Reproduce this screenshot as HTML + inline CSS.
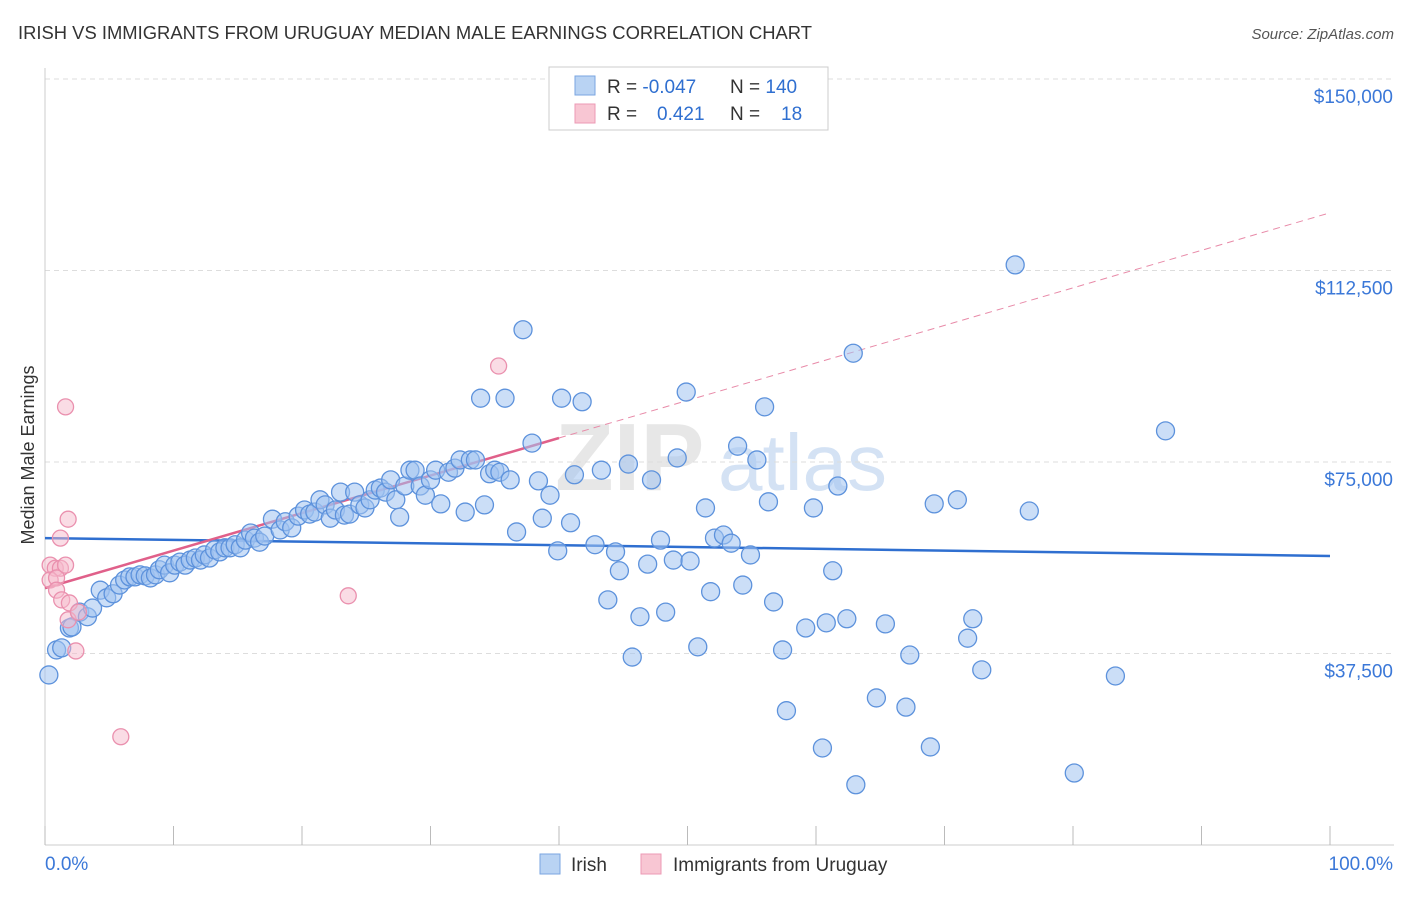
<!DOCTYPE html>
<html><head><meta charset="utf-8"><style>
body{margin:0;background:#fff;font-family:"Liberation Sans",sans-serif;}
svg text{font-family:"Liberation Sans",sans-serif;}
</style></head><body>
<svg id="chart" width="1406" height="892" xmlns="http://www.w3.org/2000/svg">
<text x="18" y="39" font-size="18" fill="#333" textLength="794" lengthAdjust="spacingAndGlyphs">IRISH VS IMMIGRANTS FROM URUGUAY MEDIAN MALE EARNINGS CORRELATION CHART</text>
<text x="1394" y="39" font-size="15" fill="#555" text-anchor="end" font-style="italic">Source: ZipAtlas.com</text>
<text x="34" y="455" font-size="18" fill="#333" text-anchor="middle" transform="rotate(-90 34 455)">Median Male Earnings</text>
<g>
<text x="555" y="490" font-size="96" fill="#d8d8d8" font-weight="bold" opacity="0.6">ZIP</text>
<text x="718" y="490" font-size="80" fill="#b8d0ee" opacity="0.6">atlas</text>
</g>
<g id="grid"></g>
<g id="axes"></g>
<g id="trends"></g>
<g id="points"></g>
<g>
<rect x="549" y="67" width="279" height="63" fill="#fff" stroke="#ccc"/>
<rect x="575" y="76" width="20" height="19" fill="#b9d3f3" stroke="#7aa6e0"/>
<rect x="575" y="104" width="20" height="19" fill="#f8c6d3" stroke="#ec9ab4"/>
<text x="607" y="93" font-size="19" fill="#333">R = <tspan fill="#2f6fd0">-0.047</tspan></text>
<text x="730" y="93" font-size="19" fill="#333">N = <tspan fill="#2f6fd0">140</tspan></text>
<text x="607" y="120" font-size="19" fill="#333">R = <tspan x="657" fill="#2f6fd0">0.421</tspan></text>
<text x="730" y="120" font-size="19" fill="#333">N = <tspan x="781" fill="#2f6fd0">18</tspan></text>
</g>
<g>
<rect x="540" y="854" width="20" height="20" fill="#b9d3f3" stroke="#7aa6e0"/>
<text x="571" y="871" font-size="19" fill="#333">Irish</text>
<rect x="641" y="854" width="20" height="20" fill="#f8c6d3" stroke="#ec9ab4"/>
<text x="673" y="871" font-size="19" fill="#333">Immigrants from Uruguay</text>
</g>
</svg>
<script>
const yTicks=[37500,75000,112500,150000];
const yTickLabels=["$37,500","$75,000","$112,500","$150,000"];
const xTicks=[0,10,20,30,40,50,60,70,80,90,100];
const irishX=[0.3,0.9,1.3,1.9,2.1,2.7,3.3,3.7,4.3,4.8,5.3,5.8,6.2,6.6,7.0,7.4,7.8,8.2,8.6,8.9,9.3,9.7,10.1,10.5,10.9,11.3,11.7,12.1,12.4,12.8,13.2,13.6,14.0,14.4,14.8,15.2,15.6,16.0,16.3,16.7,17.1,17.7,18.3,18.7,19.2,19.7,20.2,20.6,21.0,21.4,21.8,22.2,22.6,23.0,23.3,23.7,24.1,24.5,24.9,25.3,25.7,26.1,26.5,26.9,27.3,27.6,28.0,28.4,28.8,29.2,29.6,30.0,30.4,30.8,31.4,31.9,32.3,32.7,33.1,33.5,33.9,34.2,34.6,35.0,35.4,35.8,36.2,36.7,37.2,37.9,38.4,38.7,39.3,39.9,40.2,40.9,41.2,41.8,42.8,43.3,43.8,44.4,44.7,45.4,45.7,46.3,46.9,47.2,47.9,48.3,48.9,49.2,49.9,50.2,50.8,51.4,51.8,52.1,52.8,53.4,53.9,54.3,54.9,55.4,56.0,56.3,56.7,57.4,57.7,59.2,59.8,60.5,60.8,61.3,61.7,62.4,62.9,63.1,65.4,64.7,67.0,67.3,68.9,69.2,71.0,71.8,72.2,72.9,75.5,76.6,80.1,83.3,87.2];
const irishY=[33.3,38.2,38.6,42.5,42.7,45.6,44.7,46.4,49.9,48.4,49.2,50.9,51.9,52.5,52.5,52.9,52.7,52.3,52.9,53.9,54.8,53.3,54.8,55.4,54.8,55.8,56.2,55.8,56.8,56.2,57.8,57.4,58.2,58.2,58.8,58.2,59.7,61.1,60.1,59.3,60.5,63.8,61.7,63.3,62.1,64.4,65.6,64.8,65.2,67.6,66.6,64.0,65.6,69.1,64.6,64.8,69.1,66.6,66.0,67.6,69.5,69.9,69.1,71.5,67.6,64.2,70.3,73.4,73.4,70.3,68.5,71.5,73.4,66.8,73.0,73.8,75.4,65.2,75.4,75.4,87.5,66.6,72.7,73.4,73.0,87.5,71.5,61.3,100.9,78.7,71.3,64.0,68.5,57.6,87.5,63.1,72.5,86.8,58.8,73.4,48.0,57.4,53.7,74.6,36.8,44.7,55.0,71.5,59.7,45.6,55.8,75.8,88.7,55.6,38.8,66.0,49.6,60.1,60.7,59.1,78.1,50.9,56.8,75.4,85.8,67.2,47.6,38.2,26.3,42.5,66.0,19.0,43.5,53.7,70.3,44.3,96.3,11.8,43.3,28.8,27.0,37.2,19.2,66.8,67.6,40.5,44.3,34.3,113.6,65.4,14.1,33.1,81.1];
const uruX=[1.6,1.8,1.2,0.4,0.8,1.2,0.4,0.9,0.9,1.3,1.9,1.8,2.6,2.4,5.9,23.6,35.3,1.6];
const uruY=[85.8,63.8,60.1,54.8,54.2,54.2,51.9,52.3,49.9,48.0,47.4,44.1,45.6,38.0,21.2,48.8,93.8,54.8];
const irishTrend=[60.1,-0.035];
const uruTrend=[50.3,0.735];
const NS="http://www.w3.org/2000/svg";
const X0=45,X1=1330,Y0=845,Y150=79;
const sx=p=>X0+(X1-X0)*p/100;
const sy=v=>Y0-(Y0-Y150)*v/150000;
function mk(t,a,p){const e=document.createElementNS(NS,t);for(const k in a)e.setAttribute(k,a[k]);p.appendChild(e);return e;}
const grid=document.getElementById('grid'),axes=document.getElementById('axes'),tr=document.getElementById('trends'),pts=document.getElementById('points');
yTicks.forEach((v,i)=>{
 const l=mk('line',{x1:45,x2:1394,y1:sy(v),y2:sy(v),stroke:'#ddd','stroke-dasharray':'5,4'},grid);
 
 
 const t=mk('text',{x:1393,y:sy(v)+24,'font-size':19,fill:'#3b78d8','text-anchor':'end'},axes);
 t.textContent=yTickLabels[i];
 
 
});
const ya=mk('line',{x1:45,x2:45,y1:68,y2:845,stroke:'#ccc'},axes);


const xa=mk('line',{x1:45,x2:1394,y1:845,y2:845,stroke:'#ccc'},axes);


xTicks.forEach(p=>{
 const l=mk('line',{x1:sx(p),x2:sx(p),y1:826,y2:845,stroke:'#bbb'},axes);
 
 
});
const xl0=mk('text',{x:45,y:870,'font-size':19,fill:'#3b78d8'},axes);xl0.textContent='0.0%';


const xl1=mk('text',{x:1393,y:870,'font-size':19,fill:'#3b78d8','text-anchor':'end'},axes);xl1.textContent='100.0%';


const f=(t,x)=>(t[0]+t[1]*x)*1000;
const bl=mk('line',{x1:sx(0),y1:sy(f(irishTrend,0)),x2:sx(100),y2:sy(f(irishTrend,100)),stroke:'#2f6fd0','stroke-width':2.5},tr);


const pl=mk('line',{x1:sx(0),y1:sy(f(uruTrend,0)),x2:sx(40),y2:sy(f(uruTrend,40)),stroke:'#e0608a','stroke-width':2.5},tr);


const pd=mk('line',{x1:sx(40),y1:sy(f(uruTrend,40)),x2:sx(100),y2:sy(f(uruTrend,100)),stroke:'#e88aa8','stroke-width':1,'stroke-dasharray':'7,5'},tr);


irishX.forEach((x,i)=>{
 const c=mk('circle',{cx:sx(x),cy:sy(irishY[i]*1000),r:9,fill:'rgba(160,195,240,0.55)',stroke:'#5d92dc','stroke-width':1.3},pts);
 
 
});
uruX.forEach((x,i)=>{
 const c=mk('circle',{cx:sx(x),cy:sy(uruY[i]*1000),r:8,fill:'rgba(246,185,204,0.5)',stroke:'#ea90ae','stroke-width':1.3},pts);
 
 
});
</script>
</body></html>
